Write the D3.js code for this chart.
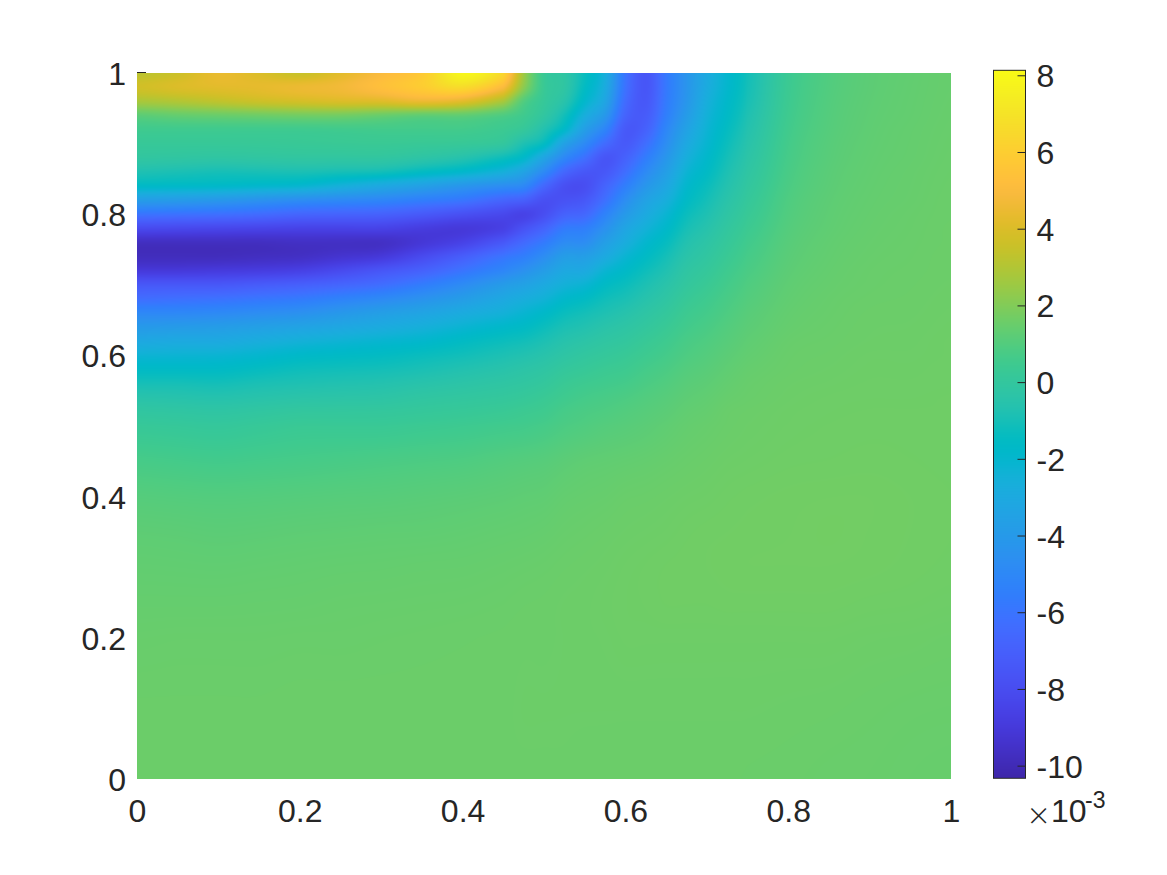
<!DOCTYPE html>
<html lang="en">

<head>
    <meta charset="UTF-8">
    <script src="https://d3js.org/d3.v7.min.js"></script>
    <title>field</title>
    <style>
        html, body { margin: 0; background: #fff; }
        text { font-family: "Liberation Sans", Arial, sans-serif; fill: #262626; }
    </style>
</head>

<body>
    <script>
        // grid, values in units of 1e-3
        var xGrid = [0, .05, .1, .15, .2, .25, .3, .35, .4, .45, .475, .5, .525, .55, .575, .6, .625, .65, .675, .7, .725, .75, .8, .85, .9, .95, 1];
        var yGrid = [1, .98, .96, .94, .92, .9, .88, .86, .84, .82, .8, .78, .76, .74, .72, .7, .68, .66, .64, .62, .6, .58, .56, .54, .52, .5, .45, .4, .35, .3, .25, .2, .1, 0];
        // one list per x, top to bottom
        var fieldColumns = [
            [3.2,3.7,2.8,1.2,.5,.2,-.1,-.8,-1.7,-3.8,-6,-8.1,-9.7,-9.8,-9,-7.4,-6.3,-5,-4,-3.1,-2.3,-1.6,-1,-.5,-.1,.2,.7,1.05,1.25,1.35,1.42,1.48,1.54,1.55],
            [3.6,4,3,1.4,.5,.2,-.15,-.9,-1.75,-3.9,-6.1,-8.2,-9.7,-9.8,-9,-7.4,-6.2,-5,-3.9,-3,-2.25,-1.6,-1,-.55,-.15,.15,.65,1.02,1.23,1.34,1.42,1.49,1.54,1.55],
            [4.4,4.2,3.3,1.5,.5,.2,-.2,-1,-1.8,-4.1,-6.2,-8.3,-9.7,-9.8,-8.9,-7.4,-6.1,-4.9,-3.8,-3,-2.2,-1.6,-1.05,-.6,-.2,.1,.6,1,1.2,1.33,1.42,1.49,1.54,1.55],
            [4,4.3,3.6,1.6,.5,.22,-.15,-.95,-1.95,-4.4,-6.4,-8.4,-9.7,-9.7,-8.8,-7.2,-5.9,-4.7,-3.6,-2.75,-2,-1.4,-.9,-.5,-.1,.2,.65,1.02,1.22,1.35,1.43,1.49,1.54,1.55],
            [3.5,4.5,3.8,1.7,.5,.25,-.1,-.9,-2.1,-4.7,-6.7,-8.5,-9.6,-9.6,-8.6,-7,-5.7,-4.5,-3.4,-2.5,-1.75,-1.2,-.8,-.4,0,.3,.7,1.05,1.25,1.37,1.44,1.5,1.55,1.55],
            [4.2,4.7,4,1.7,.55,.28,-.1,-1,-2.6,-4.9,-6.8,-8.5,-9.6,-9.3,-8.1,-6.7,-5.3,-4.1,-3.15,-2.3,-1.62,-1.12,-.72,-.35,.02,.3,.75,1.08,1.27,1.39,1.46,1.5,1.55,1.55],
            [5,5.3,4.1,1.5,.6,.3,-.1,-1.1,-3.1,-5.1,-6.9,-8.5,-9.6,-9,-7.5,-6.3,-4.9,-3.7,-2.9,-2.1,-1.5,-1.05,-.65,-.3,.05,.3,.8,1.1,1.29,1.4,1.47,1.51,1.55,1.55],
            [5.8,5.9,4.5,1.3,.6,.25,-.3,-1.5,-3.6,-5.5,-7.3,-8.8,-9.1,-8.1,-6.9,-5.6,-4.4,-3.35,-2.6,-1.9,-1.3,-.9,-.5,-.15,.12,.38,.85,1.14,1.3,1.42,1.48,1.52,1.55,1.55],
            [7.9,6.6,4.2,1.3,.6,.2,-.6,-1.9,-4.2,-5.9,-7.8,-9,-8.5,-7.1,-6,-4.8,-3.8,-2.9,-2.2,-1.55,-1.1,-.7,-.35,-.05,.2,.45,.9,1.18,1.33,1.43,1.49,1.53,1.55,1.55],
            [6.4,5,2.8,.9,.4,0,-1.2,-2.6,-4.7,-6.7,-8.2,-8.6,-7.4,-6,-5.1,-3.9,-3.1,-2.5,-1.8,-1.25,-.85,-.5,-.2,.05,.3,.55,1,1.23,1.37,1.46,1.51,1.54,1.55,1.55],
            [2.6,2.2,1,.5,.1,-.8,-1.8,-3.4,-5,-7,-8.5,-7.7,-6.5,-5.5,-4.5,-3.5,-2.75,-2.15,-1.6,-1.1,-.7,-.35,-.1,.15,.4,.6,1.05,1.27,1.39,1.48,1.53,1.55,1.56,1.55],
            [.3,.3,.15,-.1,-.7,-1.5,-3.3,-4.9,-6.6,-7.8,-7.9,-6.8,-5.7,-4.7,-3.8,-3,-2.4,-1.75,-1.25,-.85,-.5,-.2,.05,.3,.5,.7,1.1,1.3,1.42,1.5,1.54,1.55,1.56,1.55],
            [-.2,-.2,-.5,-1.1,-1.8,-3.5,-5,-6.6,-7.8,-7.7,-6.9,-5.7,-4.8,-3.8,-3.1,-2.5,-1.85,-1.3,-.9,-.55,-.25,.05,.3,.5,.7,.85,1.2,1.38,1.47,1.53,1.56,1.56,1.56,1.55],
            [-1.3,-1.5,-1.9,-2.7,-3.7,-4.9,-6.2,-7.4,-7.9,-7.4,-6.6,-5.5,-4.7,-3.7,-3,-2.2,-1.55,-1.05,-.7,-.35,-.05,.2,.45,.65,.82,.95,1.28,1.42,1.5,1.55,1.57,1.57,1.56,1.54],
            [-2.7,-2.9,-3.3,-4.1,-5.2,-6.4,-7.5,-7.4,-6.8,-6.2,-5.3,-4.5,-3.7,-3,-2.2,-1.6,-1.15,-.8,-.45,-.15,.1,.35,.55,.75,.9,1.05,1.32,1.45,1.53,1.57,1.59,1.58,1.56,1.54],
            [-6,-6.1,-6.4,-6.8,-7.3,-7.3,-6.9,-6.3,-5.5,-4.7,-4,-3.3,-2.8,-2.2,-1.7,-1.25,-.9,-.55,-.25,0,.25,.45,.65,.85,1,1.12,1.36,1.5,1.56,1.6,1.61,1.6,1.56,1.54],
            [-7.5,-7.5,-7.4,-7.2,-6.9,-6.3,-5.6,-4.9,-4.2,-3.5,-3,-2.5,-2,-1.6,-1.2,-.85,-.55,-.25,0,.25,.45,.65,.82,.98,1.1,1.2,1.4,1.52,1.58,1.62,1.62,1.6,1.56,1.54],
            [-5.8,-5.8,-5.7,-5.5,-5.1,-4.7,-4.2,-3.7,-3.2,-2.7,-2.2,-1.8,-1.4,-1.05,-.75,-.45,-.2,.05,.28,.48,.65,.82,.97,1.1,1.2,1.3,1.45,1.55,1.6,1.64,1.64,1.6,1.56,1.54],
            [-4.3,-4.3,-4.2,-3.9,-3.5,-3.1,-2.7,-2.3,-1.95,-1.65,-1.3,-1,-.7,-.45,-.2,0,.22,.42,.58,.75,.88,1.02,1.14,1.24,1.33,1.4,1.5,1.58,1.63,1.65,1.64,1.6,1.56,1.54],
            [-3,-2.9,-2.7,-2.5,-2.3,-2.1,-1.85,-1.6,-1.3,-1.05,-.8,-.55,-.3,-.1,.1,.3,.48,.63,.78,.92,1.03,1.14,1.24,1.33,1.4,1.46,1.54,1.6,1.65,1.66,1.64,1.6,1.56,1.54],
            [-2,-1.95,-1.8,-1.65,-1.45,-1.25,-1.05,-.85,-.65,-.45,-.25,-.05,.13,.3,.47,.62,.76,.88,1,1.1,1.2,1.29,1.37,1.44,1.5,1.52,1.58,1.63,1.66,1.67,1.65,1.6,1.56,1.54],
            [-1.1,-1.05,-.95,-.8,-.65,-.5,-.35,-.2,-.05,.1,.25,.4,.55,.68,.8,.92,1.02,1.12,1.2,1.28,1.35,1.42,1.47,1.5,1.54,1.56,1.6,1.65,1.67,1.68,1.65,1.6,1.56,1.53],
            [.35,.38,.42,.48,.55,.62,.68,.75,.82,.9,.96,1.03,1.1,1.16,1.22,1.28,1.33,1.38,1.42,1.47,1.5,1.52,1.55,1.57,1.59,1.6,1.63,1.67,1.68,1.68,1.65,1.6,1.55,1.52],
            [.95,.97,1,1.03,1.06,1.1,1.13,1.17,1.2,1.24,1.27,1.3,1.34,1.37,1.4,1.43,1.46,1.48,1.5,1.52,1.54,1.56,1.58,1.6,1.61,1.62,1.64,1.68,1.69,1.68,1.65,1.6,1.54,1.5],
            [1.22,1.23,1.25,1.27,1.29,1.31,1.33,1.35,1.37,1.39,1.41,1.43,1.45,1.47,1.49,1.5,1.52,1.54,1.55,1.56,1.58,1.59,1.6,1.61,1.62,1.63,1.65,1.68,1.68,1.67,1.63,1.58,1.52,1.49],
            [1.35,1.36,1.37,1.38,1.4,1.41,1.42,1.44,1.45,1.46,1.48,1.49,1.5,1.51,1.52,1.53,1.54,1.55,1.56,1.57,1.58,1.59,1.6,1.61,1.62,1.63,1.64,1.66,1.66,1.65,1.62,1.57,1.5,1.47],
            [1.45,1.45,1.46,1.47,1.48,1.49,1.5,1.51,1.52,1.53,1.53,1.54,1.54,1.55,1.55,1.56,1.57,1.58,1.59,1.6,1.6,1.61,1.61,1.62,1.62,1.63,1.63,1.64,1.64,1.63,1.6,1.55,1.49,1.46]
        ];
        var xTicks = [0, .2, .4, .6, .8, 1];
        var yTicks = [0, .2, .4, .6, .8, 1];
        var barTicks = [-10, -8, -6, -4, -2, 0, 2, 4, 6, 8];
        var valueRange = [-10.33, 8.13];
        // parula, 64 levels
        var parula = [
            [.2422,.1504,.6603],[.2504,.165,.7076],[.2578,.1818,.7511],[.2647,.1978,.7952],[.2706,.2147,.8364],[.2751,.2342,.871],[.2783,.2559,.8991],[.2803,.2782,.9221],
            [.2813,.3006,.9414],[.281,.3228,.9579],[.2795,.3447,.9717],[.276,.3667,.9829],[.2699,.3892,.9906],[.2602,.4123,.9952],[.244,.4358,.9988],[.2206,.4603,.9973],
            [.1963,.4847,.9892],[.1834,.5074,.9798],[.1786,.5289,.9682],[.1764,.5499,.952],[.1687,.5703,.9359],[.154,.5902,.9218],[.146,.6091,.9079],[.138,.6276,.8973],
            [.1248,.6459,.8883],[.1113,.6635,.8763],[.0952,.6798,.8598],[.0689,.6948,.8394],[.0297,.7082,.8163],[.0036,.7203,.7917],[.0067,.7312,.766],[.0433,.7411,.7394],
            [.0964,.75,.712],[.1408,.7584,.6842],[.1717,.767,.6554],[.1938,.7758,.6251],[.2161,.7843,.5923],[.247,.7918,.5567],[.2906,.7973,.5188],[.3406,.8008,.4789],
            [.3909,.8029,.4354],[.4456,.8024,.3909],[.5044,.7993,.348],[.5616,.7942,.3045],[.6174,.7876,.2612],[.672,.7793,.2227],[.7242,.7698,.191],[.7738,.7598,.1646],
            [.8203,.7498,.1535],[.8634,.7406,.1596],[.9035,.733,.1774],[.9393,.7288,.21],[.9728,.7298,.2394],[.9956,.7434,.2371],[.997,.7659,.2199],[.9952,.7893,.2028],
            [.9892,.8136,.1885],[.9786,.8386,.1766],[.9676,.8639,.1643],[.961,.889,.1537],[.9597,.9135,.1423],[.9628,.9373,.1265],[.9691,.9606,.1064],[.9769,.9839,.0805]
        ];

        var w = 1167,
            h = 875,
            fontSize = "32px";
        var x = d3.scaleLinear().domain([0, 1]).range([137, 951]);
        var y = d3.scaleLinear().domain([0, 1]).range([779, 73]);
        var barY = d3.scaleLinear().domain(valueRange).range([778.3, 70.3]);
        var levels = parula.map(function(c) {
            return d3.rgb(c[0] * 255, c[1] * 255, c[2] * 255);
        });
        // blended between levels so the field stays smooth
        var color = d3.scaleLinear()
            .domain(d3.range(levels.length).map(function(i) {
                return valueRange[0] + (valueRange[1] - valueRange[0]) * i / (levels.length - 1);
            }))
            .range(levels)
            .clamp(true);
        // grid position -> fractional index
        var xIndex = d3.scaleLinear().domain(xGrid).range(d3.range(xGrid.length));
        var yIndex = d3.scaleLinear().domain(yGrid).range(d3.range(yGrid.length));

        var svg = d3.select("body").append("svg")
            .attr("width", w)
            .attr("height", h)
            .style("display", "block");

        drawField();
        drawAxes();
        drawColorbar();

        // catmull-rom through four neighbours
        function cubic(a, b, c, d, t) {
            return b + 0.5 * t * (c - a + t * (2 * a - 5 * b + 4 * c - d + t * (3 * (b - c) + d - a)));
        }

        function sample(u, v) {
            var i = Math.min(Math.floor(u), xGrid.length - 2),
                j = Math.min(Math.floor(v), yGrid.length - 2);
            var vals = [];
            for (var a = -1; a <= 2; a++) {
                var col = fieldColumns[Math.max(0, Math.min(xGrid.length - 1, i + a))];
                vals.push(cubic(
                    col[Math.max(0, j - 1)], col[j], col[j + 1], col[Math.min(yGrid.length - 1, j + 2)], v - j));
            }
            return cubic(vals[0], vals[1], vals[2], vals[3], u - i);
        }

        function drawField() {
            var pw = x.range()[1] - x.range()[0],
                ph = y.range()[0] - y.range()[1];
            var canvas = document.createElement("canvas");
            canvas.width = pw;
            canvas.height = ph;
            var ctx = canvas.getContext("2d");
            var img = ctx.createImageData(pw, ph);
            for (var py = 0; py < ph; py++) {
                var v = yIndex(y.invert(y.range()[1] + py + 0.5));
                for (var px = 0; px < pw; px++) {
                    var u = xIndex(x.invert(x.range()[0] + px + 0.5));
                    var c = d3.rgb(color(sample(u, v)));
                    var k = (py * pw + px) * 4;
                    img.data[k] = c.r;
                    img.data[k + 1] = c.g;
                    img.data[k + 2] = c.b;
                    img.data[k + 3] = 255;
                }
            }
            ctx.putImageData(img, 0, 0);
            svg.append("image")
                .attr("x", x(0))
                .attr("y", y(1))
                .attr("width", pw)
                .attr("height", ph)
                .attr("href", canvas.toDataURL());
        }

        function drawAxes() {
            var bottom = svg.append("g")
                .attr("transform", "translate(0,779)")
                .call(d3.axisBottom(x).tickValues(xTicks).tickSize(0).tickFormat(String));
            bottom.select(".domain").remove();
            bottom.selectAll("text")
                .attr("y", 43)
                .attr("dy", 0)
                .style("font-size", fontSize);

            var left = svg.append("g")
                .attr("transform", "translate(137,0)")
                .call(d3.axisLeft(y).tickValues(yTicks).tickSize(0).tickFormat(String));
            left.select(".domain").remove();
            left.selectAll("text")
                .attr("x", -11)
                .attr("dy", "0.36em")
                .style("font-size", fontSize);

            // only the top tick shows above the image
            svg.append("line")
                .attr("x1", x(0)).attr("x2", x(0) + 9)
                .attr("y1", y(1) - 0.5).attr("y2", y(1) - 0.5)
                .attr("stroke", "#262626")
                .attr("stroke-width", 1);
        }

        function drawColorbar() {
            // one cell per pixel row, snapped so no stripes show
            var top = Math.round(barY(valueRange[1])),
                bottom = Math.round(barY(valueRange[0]));
            svg.append("g").selectAll("rect")
                .data(d3.range(top, bottom))
                .enter().append("rect")
                .attr("x", 993.5)
                .attr("width", 32)
                .attr("y", function(d) {
                    return d;
                })
                .attr("height", 1)
                .attr("fill", function(d) {
                    return color(barY.invert(d + 0.5));
                });

            svg.append("rect")
                .attr("x", 993.5)
                .attr("y", barY(valueRange[1]))
                .attr("width", 32)
                .attr("height", barY(valueRange[0]) - barY(valueRange[1]))
                .attr("fill", "none")
                .attr("stroke", "#262626")
                .attr("stroke-width", 1);

            var axis = svg.append("g")
                .attr("transform", "translate(1025.5,0)")
                .call(d3.axisRight(barY).tickValues(barTicks).tickSize(-8).tickFormat(String));
            axis.select(".domain").remove();
            axis.selectAll("line").attr("stroke", "#262626");
            axis.selectAll("text")
                .attr("x", 11)
                .attr("dy", "0.36em")
                .style("font-size", fontSize);

            // exponent
            svg.append("text").attr("x", 1027).attr("y", 826).style("font-family", "Inter").style("font-size", "36px").style("font-weight", 200).text("×");
            svg.append("text").attr("x", 1051).attr("y", 822).style("font-size", fontSize).text("10");
            svg.append("text").attr("x", 1085).attr("y", 808).style("font-size", "23px").text("-3");
        }
    </script>
</body>

</html>
